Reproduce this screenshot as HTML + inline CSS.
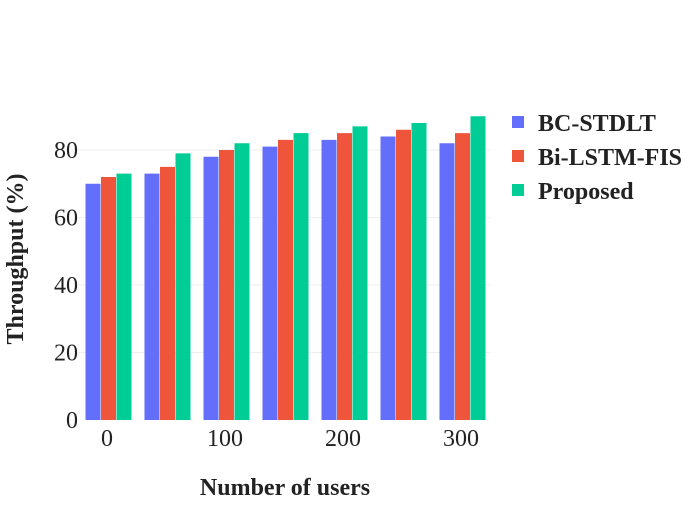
<!DOCTYPE html>
<html><head><meta charset="utf-8"><style>
html,body{margin:0;padding:0;background:#fff;}
svg text{font-family:"Liberation Serif",serif;}
</style></head><body>
<svg width="700" height="500" xmlns="http://www.w3.org/2000/svg">
<rect width="700" height="500" fill="#fff"/>
<g stroke="#eeeeee" stroke-width="1">
<line x1="78" x2="490" y1="352.5" y2="352.5"/>
<line x1="78" x2="490" y1="285" y2="285"/>
<line x1="78" x2="490" y1="217.5" y2="217.5"/>
<line x1="78" x2="490" y1="150" y2="150"/>
</g>
<g fill="#636efa">
<rect x="85.5" y="183.75" width="15" height="236.25"/>
<rect x="144.5" y="173.625" width="15" height="246.375"/>
<rect x="203.5" y="156.75" width="15" height="263.25"/>
<rect x="262.5" y="146.625" width="15" height="273.375"/>
<rect x="321.5" y="139.875" width="15" height="280.125"/>
<rect x="380.5" y="136.5" width="15" height="283.5"/>
<rect x="439.5" y="143.25" width="15" height="276.75"/>
</g>
<g fill="#EF553B">
<rect x="101" y="177" width="15" height="243"/>
<rect x="160" y="166.875" width="15" height="253.125"/>
<rect x="219" y="150" width="15" height="270"/>
<rect x="278" y="139.875" width="15" height="280.125"/>
<rect x="337" y="133.125" width="15" height="286.875"/>
<rect x="396" y="129.75" width="15" height="290.25"/>
<rect x="455" y="133.125" width="15" height="286.875"/>
</g>
<g fill="#00cc96">
<rect x="116.5" y="173.625" width="15" height="246.375"/>
<rect x="175.5" y="153.375" width="15" height="266.625"/>
<rect x="234.5" y="143.25" width="15" height="276.75"/>
<rect x="293.5" y="133.125" width="15" height="286.875"/>
<rect x="352.5" y="126.375" width="15" height="293.625"/>
<rect x="411.5" y="123" width="15" height="297"/>
<rect x="470.5" y="116.25" width="15" height="303.75"/>
</g>
<g font-size="24" fill="#222" text-anchor="end">
<text x="78" y="428">0</text>
<text x="78" y="360.5">20</text>
<text x="78" y="293">40</text>
<text x="78" y="225.5">60</text>
<text x="78" y="158">80</text>
</g>
<g font-size="24" fill="#222" text-anchor="middle">
<text x="107" y="446">0</text>
<text x="225" y="446">100</text>
<text x="343" y="446">200</text>
<text x="461" y="446">300</text>
</g>
<text x="285" y="495" font-size="24" font-weight="bold" text-anchor="middle" fill="#222">Number of users</text>
<text transform="translate(23,259) rotate(-90)" font-size="24" font-weight="bold" text-anchor="middle" fill="#222">Throughput (%)</text>
<g font-size="24" font-weight="bold" fill="#222">
<rect x="512" y="116" width="12" height="12" fill="#636efa"/><text x="538" y="131">BC-STDLT</text>
<rect x="512" y="150" width="12" height="12" fill="#EF553B"/><text x="538" y="165">Bi-LSTM-FIS</text>
<rect x="512" y="184" width="12" height="12" fill="#00cc96"/><text x="538" y="199">Proposed</text>
</g>
</svg>
</body></html>
